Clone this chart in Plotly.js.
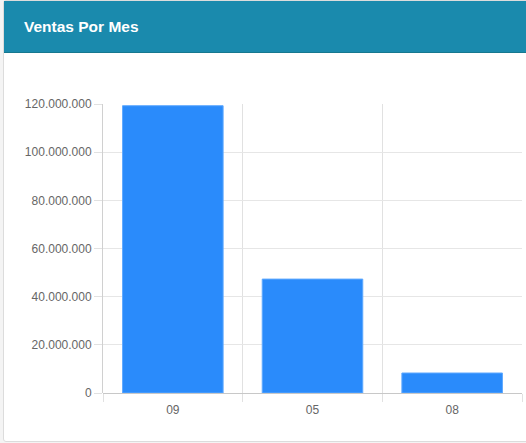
<!DOCTYPE html>
<html>
<head>
<meta charset="utf-8">
<script src="https://cdn.plot.ly/plotly-3.0.1.min.js"></script>
<style>
  body { margin: 0; background: #f4f4f4; width: 526px; height: 443px; overflow: hidden; }
  .card { position: absolute; left: 3px; top: 0; width: 530px; height: 440px; background: #fff;
          border: 1px solid #dcdcdc; border-radius: 3px; }
  .card-header { height: 51px; background: #1a8aad; border-bottom: 1px solid #16788f;
                 color: #fff; font-family: "Liberation Sans", Arial, sans-serif; font-weight: bold;
                 font-size: 15.5px; line-height: 51px; padding-left: 20px; }
  #grafico { position: absolute; left: 0; top: 0; width: 526px; height: 443px; }
</style>
</head>
<body>
<div class="card"><div class="card-header">Ventas Por Mes</div></div>
<div id="grafico"></div>
<script>
// meses y total vendido en cada uno
var meses = ['09', '05', '08'];
var ventas = [119300000, 47300000, 8300000];

var yTicks = [0, 20000000, 40000000, 60000000, 80000000, 100000000, 120000000];

var barras = {
  x: meses,
  y: ventas,
  type: 'bar',
  width: 0.72,
  marker: { color: '#2a8bfb', line: { color: '#5fa9ff', width: 1 } },
  hoverinfo: 'x+y'
};

var layout = {
  width: 526,
  height: 443,
  margin: { l: 103, r: 4, t: 104, b: 50 },
  paper_bgcolor: 'rgba(0,0,0,0)',
  plot_bgcolor: 'rgba(0,0,0,0)',
  separators: ',.',
  showlegend: false,
  font: { family: '"Liberation Sans", Arial, sans-serif', size: 12, color: '#666' },
  xaxis: {
    type: 'category',
    tickson: 'boundaries',
    ticks: 'outside',
    ticklen: 8,
    tickcolor: '#e1e1e1',
    ticklabelstandoff: 8,
    showgrid: true,
    gridcolor: '#e1e1e1',
    showline: false,
    zeroline: false
  },
  yaxis: {
    range: [0, 120000000],
    tickvals: yTicks,
    tickformat: ',d',
    ticks: 'outside',
    ticklen: 8,
    tickcolor: '#e1e1e1',
    gridcolor: '#e6e6e6',
    showline: true,
    linecolor: '#d0d0d0',
    zeroline: true,
    zerolinecolor: '#c8c8c8',
    zerolinewidth: 1
  }
};

Plotly.newPlot('grafico', [barras], layout, { displayModeBar: false, staticPlot: true });
</script>
</body>
</html>
